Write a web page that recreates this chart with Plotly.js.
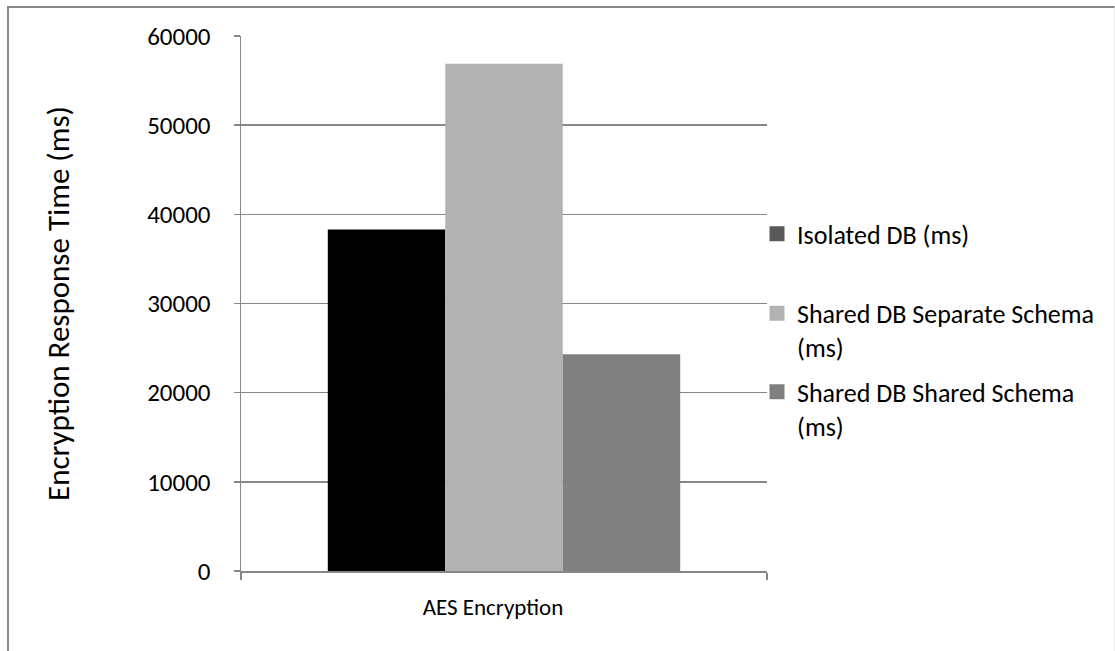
<!DOCTYPE html>
<html>
<head>
<meta charset="utf-8">
<script src="https://cdn.plot.ly/plotly-3.0.1.min.js"></script>
<style>
  html, body { margin: 0; padding: 0; background: #fff; }
  #chart { width: 1115px; height: 651px; }
  #frame { position: absolute; left: 7px; top: 6px; width: 1105px; height: 700px;
           border-left: 2px solid #878787; border-top: 2px solid #878787;
           border-right: 1px solid #e8e8e8; pointer-events: none; }
</style>
</head>
<body>
<div id="chart"></div>
<div id="frame"></div>
<script>
const categories = ["AES Encryption"];
const seriesNames = ["Isolated DB (ms)", "Shared DB Separate Schema<br>(ms)", "Shared DB Shared Schema<br>(ms)"];
const isolatedDB = [38300];
const sharedDBSeparateSchema = [56900];
const sharedDBSharedSchema = [24300];
const yTickVals = [0, 10000, 20000, 30000, 40000, 50000, 60000];

const barColors = ["#000000", "#b2b2b2", "#808080"];
const legendColors = ["#595959", "#b2b2b2", "#808080"];
const values = [isolatedDB, sharedDBSeparateSchema, sharedDBSharedSchema];
const legendIds = ["legend", "legend2", "legend3"];

const FONT = "Carlito, Lato, 'Open Sans', sans-serif";

const data = [];
values.forEach((v, i) => {
  data.push({
    type: "bar", x: categories, y: v, name: seriesNames[i],
    marker: { color: barColors[i] }, showlegend: false, hoverinfo: "y"
  });
});
// legend-only entries (Excel legend swatches use slightly different shades)
values.forEach((v, i) => {
  data.push({
    type: "bar", x: categories, y: [null], name: seriesNames[i],
    xaxis: "x2", yaxis: "y",
    marker: { color: legendColors[i], line: { color: legendColors[i], width: 3 } },
    showlegend: true, legend: legendIds[i]
  });
});

const legendBase = {
  x: 0.981, xanchor: "left", yanchor: "middle", valign: "top",
  bgcolor: "rgba(0,0,0,0)", borderwidth: 0,
  font: { family: FONT, size: 26, color: "#000" }
};

const layout = {
  width: 1115, height: 651,
  margin: { l: 241, r: 348, t: 36, b: 80 },
  paper_bgcolor: "#fff", plot_bgcolor: "#fff",
  barmode: "group", bargap: 0.33, bargroupgap: 0,
  font: { family: FONT, size: 25, color: "#000" },
  xaxis: {
    type: "category", range: [-0.5, 0.5],
    showline: true, linecolor: "#878787", linewidth: 1.5,
    ticks: "outside", tickson: "boundaries", ticklen: 7, tickcolor: "#878787", tickwidth: 1.5,
    ticklabelstandoff: 15, ticklabelshift: -11,
    showgrid: false, zeroline: false,
    tickfont: { family: FONT, size: 23, color: "#000" }
  },
  xaxis2: {
    type: "category", range: [-0.5, 0.5], overlaying: "x", visible: false
  },
  yaxis: {
    range: [0, 60000], tickvals: yTickVals, ticktext: yTickVals.map(String),
    showline: true, linecolor: "#878787", linewidth: 1.5,
    ticks: "outside", ticklen: 6, tickcolor: "#878787", tickwidth: 1.5,
    ticklabelstandoff: 18,
    showgrid: true, gridcolor: "#878787", gridwidth: 1.5,
    zeroline: false,
    tickfont: { family: FONT, size: 25, color: "#000" },
    title: { text: "Encryption Response Time (ms)", standoff: 68,
             font: { family: FONT, size: 31, color: "#000" } }
  },
  legend: Object.assign({}, legendBase, { y: 0.630 }),
  legend2: Object.assign({}, legendBase, { y: 0.450 }),
  legend3: Object.assign({}, legendBase, { y: 0.303 })
};

Plotly.newPlot("chart", data, layout, { displayModeBar: false, staticPlot: true });
</script>
</body>
</html>
